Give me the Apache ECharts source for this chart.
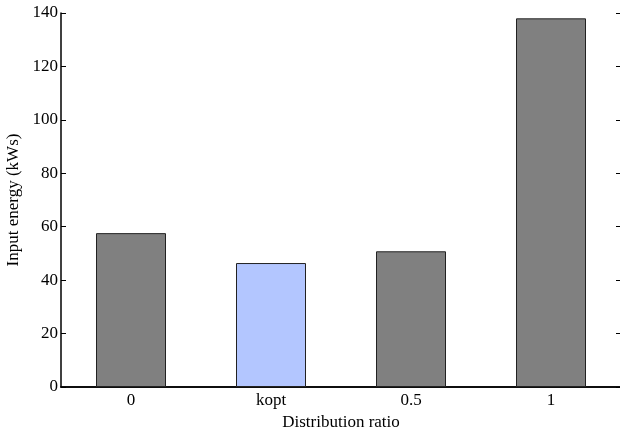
<!DOCTYPE html>
<html>
<head>
<meta charset="utf-8">
<script src="https://cdn.jsdelivr.net/npm/echarts@6/dist/echarts.min.js"></script>
<style>
  html, body { margin: 0; padding: 0; background: #fff; }
  #chart { width: 620px; height: 428px; }
</style>
</head>
<body>
<div id="chart"></div>
<script>
// data
var categories = ['0', 'kopt', '0.5', '1'];
var energy = [57.6, 46.4, 50.8, 138.0];
var barColors = ['#808080', '#b3c6ff', '#808080', '#808080'];
var yTicks = [0, 20, 40, 60, 80, 100, 120, 140];

var font = 'Liberation Serif, Times New Roman, serif';
var chart = echarts.init(document.getElementById('chart'));

var option = {
  animation: false,
  backgroundColor: '#fff',
  grid: { left: 61, right: -1, top: 13, bottom: 41, outerBoundsMode: 'none' },
  xAxis: [{
    type: 'category',
    data: categories,
    boundaryGap: true,
    axisLine: { lineStyle: { color: '#000', width: 1.5 } },
    axisTick: { show: false },
    axisLabel: { color: '#000', fontFamily: font, fontSize: 17, margin: 5 },
    name: 'Distribution ratio',
    nameLocation: 'middle',
    nameGap: 21,
    nameTextStyle: { color: '#000', fontFamily: font, fontSize: 17 }
  }, {
    // top frame with the two inward ticks
    type: 'category',
    data: categories,
    position: 'top',
    axisLine: { lineStyle: { color: '#000', width: 1.5 } },
    axisTick: {
      inside: true, length: 5, alignWithLabel: true,
      interval: function (i) { return i === 0 || i === 3; },
      lineStyle: { color: '#000' }
    },
    axisLabel: { show: false }
  }],
  yAxis: [{
    type: 'value',
    min: yTicks[0],
    max: yTicks[yTicks.length - 1],
    interval: 20,
    axisLine: { show: true, lineStyle: { color: '#000', width: 1.5 } },
    axisTick: { show: true, inside: true, length: 5, lineStyle: { color: '#000' } },
    axisLabel: { color: '#000', fontFamily: font, fontSize: 17, margin: 3 },
    splitLine: { show: false },
    name: 'Input energy (kWs)',
    nameLocation: 'middle',
    nameGap: 37,
    nameTextStyle: { color: '#000', fontFamily: font, fontSize: 17 }
  }, {
    type: 'value',
    min: yTicks[0],
    max: yTicks[yTicks.length - 1],
    interval: 20,
    position: 'right',
    axisLine: { show: true, lineStyle: { color: '#000', width: 1.5 } },
    axisTick: { show: true, inside: true, length: 5, lineStyle: { color: '#000' } },
    axisLabel: { show: false },
    splitLine: { show: false }
  }],
  series: [{
    type: 'bar',
    barWidth: '50%',
    data: energy.map(function (v, i) {
      return { value: v, itemStyle: { color: barColors[i] } };
    }),
    itemStyle: { borderColor: '#222', borderWidth: 1 }
  }]
};

chart.setOption(option);
</script>
</body>
</html>
